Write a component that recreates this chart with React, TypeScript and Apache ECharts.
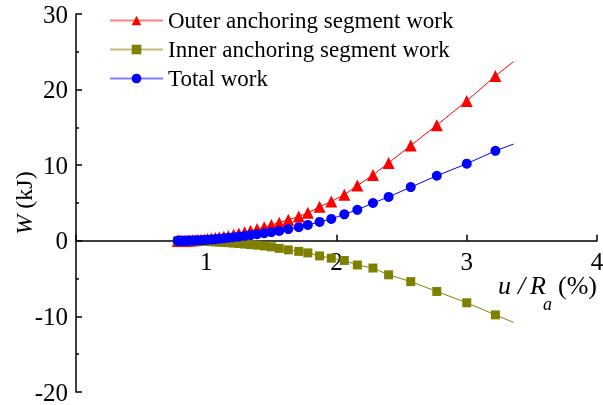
import React, { useEffect, useRef } from "react";
import * as echarts from "echarts";

const uRa = [0.78, 0.79, 0.8, 0.815, 0.83, 0.845, 0.86, 0.875, 0.895, 0.915, 0.935, 0.96, 0.985, 1.01, 1.04, 1.07, 1.1, 1.135, 1.17, 1.21, 1.25, 1.295, 1.34, 1.39, 1.445, 1.5, 1.56, 1.63, 1.71, 1.78, 1.87, 1.96, 2.06, 2.16, 2.28, 2.4, 2.57, 2.77, 3.0, 3.22];
const outerWork = [0, 0.002, 0.005, 0.01, 0.015, 0.02, 0.03, 0.04, 0.06, 0.08, 0.1, 0.14, 0.18, 0.23, 0.3, 0.37, 0.45, 0.55, 0.65, 0.8, 0.95, 1.13, 1.33, 1.55, 1.8, 2.1, 2.4, 2.8, 3.2, 3.7, 4.5, 5.2, 6.1, 7.3, 8.7, 10.3, 12.6, 15.3, 18.5, 21.8];
const innerWork = [0, -0.001, -0.002, -0.003, -0.005, -0.008, -0.01, -0.015, -0.02, -0.03, -0.04, -0.05, -0.07, -0.09, -0.11, -0.14, -0.17, -0.21, -0.25, -0.3, -0.36, -0.43, -0.5, -0.58, -0.68, -0.8, -1.0, -1.2, -1.4, -1.6, -2.0, -2.3, -2.6, -3.2, -3.6, -4.5, -5.4, -6.7, -8.2, -9.8];
const totalWork = [0, 0.001, 0.003, 0.007, 0.01, 0.012, 0.02, 0.025, 0.04, 0.05, 0.06, 0.085, 0.11, 0.14, 0.18, 0.22, 0.27, 0.33, 0.4, 0.48, 0.56, 0.66, 0.76, 0.88, 1.0, 1.15, 1.3, 1.55, 1.8, 2.1, 2.5, 2.9, 3.5, 4.1, 5.0, 5.8, 7.1, 8.6, 10.2, 11.9];
// end of the fitted line beyond the last marker
const lineEndX = 3.36;
const outerEnd = 23.7;
const innerEnd = -10.8;
const totalEnd = 12.8;

const seriesNames = ["Outer anchoring segment work", "Inner anchoring segment work", "Total work"];
const yTicks = { min: -20, max: 30, interval: 10 };
const xTicks = { min: 0, max: 4, interval: 1 };

const FONT = "'Liberation Serif', serif";

const W = 603;
const H = 405;
const GRID = { left: 76, right: 6, top: 14, bottom: 13 };

function build(ys: number[], end: number) {
  const d: any[] = uRa.map((x, i) => [x, ys[i]]);
  d.push({ value: [lineEndX, end], symbol: "none" });
  return d;
}

export default function App() {
  const ref = useRef<HTMLDivElement>(null);
  useEffect(() => {
    if (!ref.current) return;
    const chart = echarts.init(ref.current, null, { renderer: "svg" });
    const mk = (name: string, ys: number[], end: number, color: string, symbol: string, size: number) => ({
      name,
      type: "line",
      data: build(ys, end),
      symbol,
      symbolSize: size,
      showAllSymbol: true,
      lineStyle: { color, width: 1 },
      itemStyle: { color },
      z: 2,
    });
    // place the x axis where y = 0 crosses the plot
    const plotH = H - GRID.top - GRID.bottom;
    const zeroFromBottom = (plotH * (0 - yTicks.min)) / (yTicks.max - yTicks.min);
    const txt = (text: string, x: number, y: number, size: number, italic: boolean) => ({
      type: "text",
      x,
      y,
      style: {
        text,
        verticalAlign: "bottom",
        fontFamily: FONT,
        fontSize: size,
        fontStyle: italic ? "italic" : "normal",
        fill: "#000",
      },
    });
    chart.setOption({
      animation: false,
      textStyle: { fontFamily: FONT },
      grid: { ...GRID, outerBoundsMode: "none", containLabel: false },
      legend: {
        orient: "vertical",
        left: 109,
        top: 6,
        padding: 0,
        itemWidth: 53,
        itemHeight: 12,
        itemGap: 0,
        data: seriesNames,
        textStyle: { fontFamily: FONT, fontSize: 23, color: "#000", lineHeight: 29 },
        lineStyle: { opacity: 0.5, width: 2 },
      },
      xAxis: {
        type: "value",
        min: xTicks.min,
        max: xTicks.max,
        interval: xTicks.interval,
        position: "bottom",
        offset: -zeroFromBottom,
        axisLine: { show: true, onZero: false, lineStyle: { color: "#000", width: 1.5 } },
        axisTick: { show: true, inside: true, length: 6, lineStyle: { color: "#000", width: 1.5 } },
        splitLine: { show: false },
        axisLabel: {
          margin: 8,
          fontFamily: FONT,
          fontSize: 25,
          color: "#000",
          formatter: (v: number) => (v === 0 ? "" : String(v)),
        },
      },
      yAxis: {
        type: "value",
        min: yTicks.min,
        max: yTicks.max,
        interval: yTicks.interval,
        name: "{i|W} (kJ)",
        nameLocation: "middle",
        nameGap: 40,
        nameMoveOverlap: false,
        nameTextStyle: {
          fontFamily: FONT,
          fontSize: 24,
          color: "#000",
          rich: { i: { fontFamily: FONT, fontSize: 24, fontStyle: "italic", color: "#000" } },
        },
        axisLine: { show: true, onZero: false, lineStyle: { color: "#000", width: 1.5 } },
        axisTick: { show: true, inside: true, length: 6, lineStyle: { color: "#000", width: 1.5 } },
        minorTick: { show: true, splitNumber: 2, length: 3, lineStyle: { color: "#000", width: 1.5 } },
        splitLine: { show: false },
        axisLabel: { margin: 8, fontFamily: FONT, fontSize: 25, color: "#000" },
      },
      graphic: [
        txt("u", 498, 298, 26, true),
        txt("/", 518, 298, 26, true),
        txt("R", 530, 298, 26, true),
        txt("a", 543, 313, 18, true),
        txt("(%)", 558, 298, 26, false),
      ],
      series: [
        mk(seriesNames[0], outerWork, outerEnd, "#FF0000", "triangle", 12),
        mk(seriesNames[1], innerWork, innerEnd, "#808000", "rect", 9),
        mk(seriesNames[2], totalWork, totalEnd, "#0000FF", "circle", 10),
      ],
    });
    return () => chart.dispose();
  }, []);
  return <div ref={ref} style={{ position: "fixed", left: 0, top: 0, width: W, height: H }} />;
}
